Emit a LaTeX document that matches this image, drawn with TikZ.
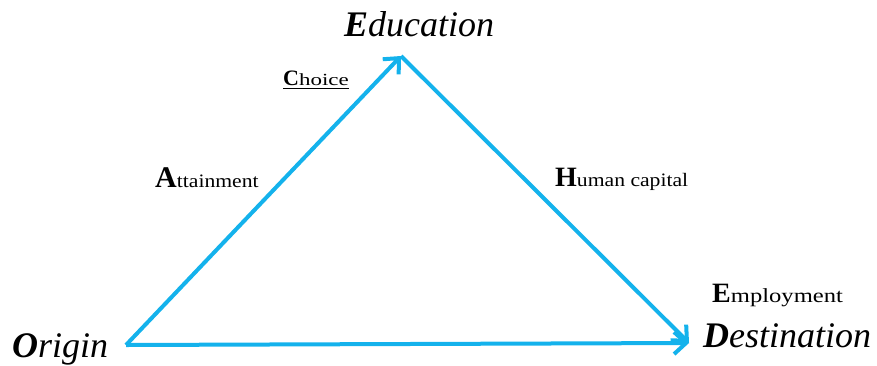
\documentclass[tikz,border=0pt]{standalone}
\usepackage{graphicx}
\usepackage{fontspec}
\setmainfont{Liberation Serif}
\usetikzlibrary{arrows.meta}

\definecolor{lineblue}{RGB}{20,178,236}

% big italic words with a bold first letter
\newcommand{\bigword}[2]{{\fontsize{36}{36}\selectfont\itshape\textbf{#1}#2}}
% bold capital followed by smaller, slightly wide letters
\newcommand{\capword}[5]{{\fontsize{#3}{#3}\selectfont\textbf{#1}}%
    \scalebox{#5}[1]{\fontsize{#4}{#4}\selectfont #2}}

\begin{document}
\begin{tikzpicture}[x=1pt, y=-1pt,
    leg/.style={lineblue, line width=4pt, line join=round,
        -{Straight Barb[length=12pt, width=22pt, line width=4pt]}},
    word/.style={anchor=base west, inner sep=0pt}]

\useasboundingbox (0,0) rectangle (877,365);

% corners of the triangle
\coordinate (org) at (126,345);
\coordinate (edu) at (401,56);
\coordinate (dst) at (689,343);

\draw[leg] (org) -- (edu);
\draw[leg] (edu) -- (dst);
\draw[leg] (org) -- (dst);

\node[anchor=base, inner sep=0pt] (education) at (419,36) {\bigword{E}{ducation}};
\node[word] (origin) at (12,357) {\bigword{O}{rigin}};
\node[word] (destination) at (703,347) {\bigword{D}{estination}};

\node[word] (choice) at (283,85) {\capword{C}{hoice}{22}{17}{1.35}};
\draw[line width=1pt] ([yshift=-3pt]choice.base west) -- ([yshift=-3pt]choice.base east);

\node[word] (attainment) at (155,187) {\capword{A}{ttainment}{30}{19}{1.14}};
\node[word] (humancap) at (555,186) {\capword{H}{uman capital}{28}{19}{1.14}};
\node[word] (employment) at (712,302) {\capword{E}{mployment}{28}{20}{1.23}};

\end{tikzpicture}
\end{document}
